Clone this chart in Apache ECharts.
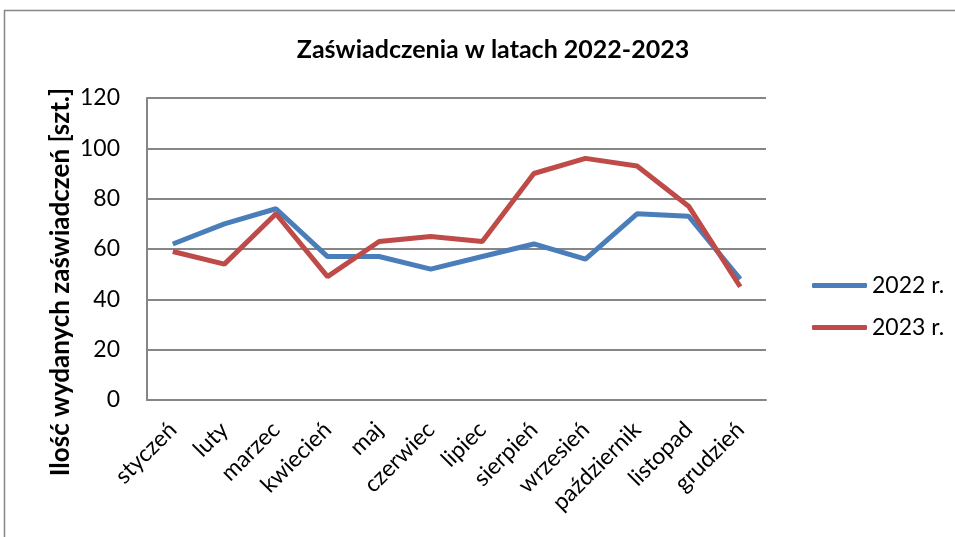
<!DOCTYPE html>
<html>
<head>
<meta charset="utf-8">
<script src="https://cdn.jsdelivr.net/npm/echarts@6/dist/echarts.min.js"></script>
<style>
  html, body { margin: 0; padding: 0; background: #fff; }
  #chart { width: 955px; height: 537px; }
</style>
</head>
<body>
<div id="chart"></div>
<script>
const months = ["styczeń", "luty", "marzec", "kwiecień", "maj", "czerwiec", "lipiec", "sierpień", "wrzesień", "październik", "listopad", "grudzień"];
const data2022 = [62, 70, 76, 57, 57, 52, 57, 62, 56, 74, 73, 48];
const data2023 = [59, 54, 74, 49, 63, 65, 63, 90, 96, 93, 77, 45];
const seriesNames = ["2022 r.", "2023 r."];
const yTitle = "Ilość wydanych zaświadczeń [szt.]";

const font = "Lato, 'Open Sans', sans-serif";
const chart = echarts.init(document.getElementById("chart"));
chart.setOption({
  animation: false,
  textStyle: { fontFamily: font },
  graphic: [
    // ramka wykresu
    {
      type: "rect",
      shape: { x: 4.5, y: 10.5, width: 1000, height: 600 },
      style: { fill: "none", stroke: "#868686", lineWidth: 1.5 },
      silent: true
    },
    // tytuł osi Y (przesunięty w dół jak w oryginale)
    {
      type: "text",
      x: 61,
      y: 282,
      rotation: Math.PI / 2,
      style: {
        text: yTitle,
        font: "bold 26px " + font,
        fill: "#000",
        align: "center",
        verticalAlign: "middle"
      },
      silent: true
    }
  ],
  title: {
    text: "Zaświadczenia w latach 2022-2023",
    left: 488,
    textAlign: "center",
    top: 32,
    textStyle: { fontFamily: font, fontSize: 25, fontWeight: "bold", color: "#000" }
  },
  legend: {
    orient: "vertical",
    left: 807,
    top: 269,
    itemWidth: 55,
    itemHeight: 5,
    itemGap: 19,
    icon: "roundRect",
    textStyle: { fontFamily: font, fontSize: 23, color: "#000" },
    data: seriesNames
  },
  grid: { left: 147, right: 189, top: 98, bottom: 137 },
  xAxis: {
    type: "category",
    data: months,
    boundaryGap: true,
    axisLine: { lineStyle: { color: "#868686", width: 2 } },
    axisTick: { show: false },
    axisLabel: { rotate: 45, interval: 0, margin: 26, fontSize: 23, color: "#000", fontFamily: font }
  },
  yAxis: {
    type: "value",
    min: 0,
    max: 120,
    interval: 20,
    axisLine: { show: true, lineStyle: { color: "#868686", width: 2 } },
    axisTick: { show: false },
    axisLabel: { fontSize: 23, color: "#000", margin: 27, fontFamily: font },
    splitLine: { lineStyle: { color: "#868686", width: 2 } }
  },
  series: [
    {
      name: seriesNames[0],
      type: "line",
      data: data2022,
      symbol: "none",
      color: "#4a7ebb",
      lineStyle: { width: 5, color: "#4a7ebb" }
    },
    {
      name: seriesNames[1],
      type: "line",
      data: data2023,
      symbol: "none",
      color: "#be4b48",
      lineStyle: { width: 5, color: "#be4b48" }
    }
  ]
});
</script>
</body>
</html>
